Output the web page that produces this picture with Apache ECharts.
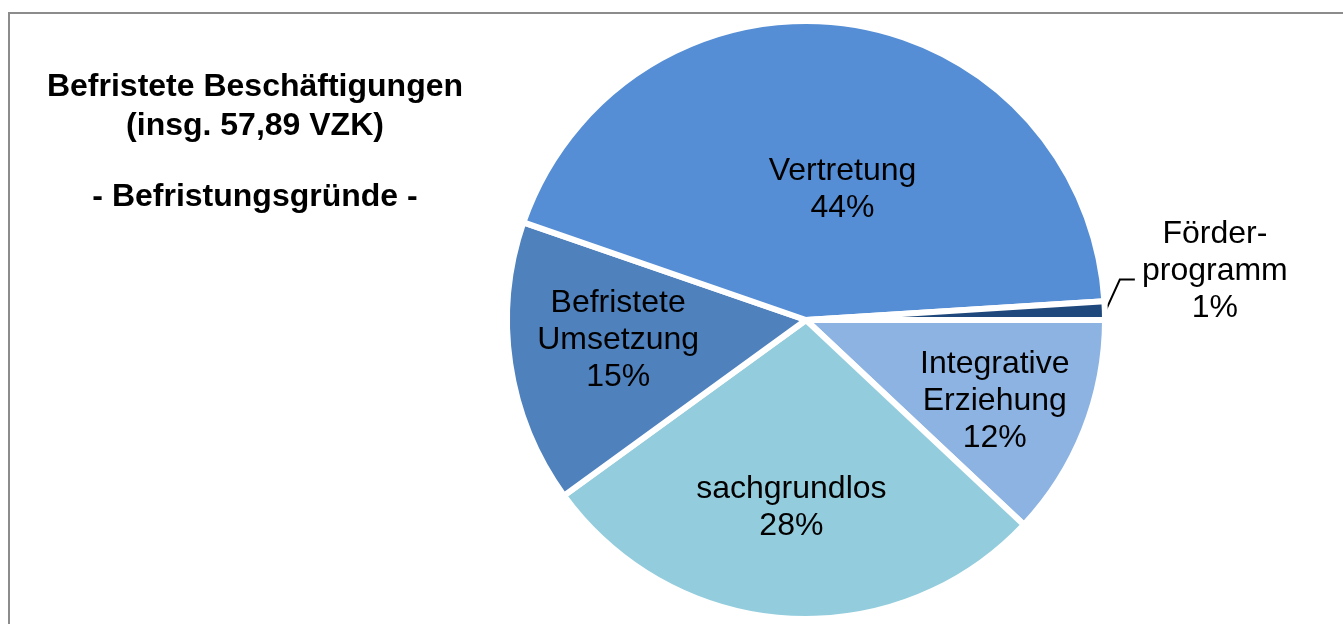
<!DOCTYPE html>
<html>
<head>
<meta charset="utf-8">
<script src="https://cdn.jsdelivr.net/npm/echarts@6/dist/echarts.min.js"></script>
<style>
  html, body { margin: 0; padding: 0; background: #fff; }
  #main { width: 1343px; height: 624px; }
</style>
</head>
<body>
<div id="main"></div>
<script>
// Befristungsgründe, Werte in VZK (Summe 57,89)
var names = ['Integrative\nErziehung', 'sachgrundlos', 'Befristete\nUmsetzung', 'Vertretung', 'Förder-\nprogramm'];
var values = [6.95, 16.21, 8.85, 25.30, 0.58];
var colors = ['#8DB3E2', '#93CDDD', '#4F81BD', '#558ED5', '#1F497D'];
// Feinverschiebung der Beschriftungen (wie im Original)
var labelShift = [[47, 25], [-5, 35], [-37, -2], [16, 21], [0, 0]];

var myChart = echarts.init(document.getElementById('main'));

var data = names.map(function (n, i) {
  var item = { name: n, value: values[i], itemStyle: { color: colors[i] } };
  if (i === 4) {
    item.label = { position: 'outside' };
    item.labelLine = { show: true, length: 22, length2: 14 };
  }
  return item;
});

var option = {
  animation: false,
  title: {
    left: 255,
    top: 68,
    textAlign: 'center',
    padding: 0,
    itemGap: 32,
    text: 'Befristete Beschäftigungen\n(insg. 57,89 VZK)',
    subtext: '- Befristungsgründe -',
    textStyle: {
      fontFamily: 'Liberation Sans, Arial, sans-serif',
      fontSize: 32, fontWeight: 'bold', color: '#000', lineHeight: 39
    },
    subtextStyle: {
      fontFamily: 'Liberation Sans, Arial, sans-serif',
      fontSize: 32, fontWeight: 'bold', color: '#000', lineHeight: 39
    }
  },
  graphic: [{
    type: 'rect',
    shape: { x: 9, y: 13, width: 1400, height: 700 },
    style: { fill: 'none', stroke: '#8c8c8c', lineWidth: 2 },
    silent: true
  }],
  series: [{
    type: 'pie',
    center: [806, 320],
    radius: 299,
    startAngle: 0,
    clockwise: true,
    avoidLabelOverlap: false,
    itemStyle: { borderColor: '#fff', borderWidth: 6 },
    label: {
      show: true,
      position: 'inside',
      fontFamily: 'Liberation Sans, Arial, sans-serif',
      fontSize: 32,
      lineHeight: 37,
      color: '#000',
      formatter: function (p) { return p.name + '\n' + Math.round(p.percent) + '%'; }
    },
    labelLine: { show: false, lineStyle: { color: '#000', width: 2 } },
    labelLayout: function (p) {
      if (p.dataIndex === 4 && p.labelLinePoints) {
        var s = p.labelLinePoints[0];
        return {
          x: s[0] + 110,
          y: s[1] - 39,
          align: 'center',
          verticalAlign: 'middle',
          labelLinePoints: [[s[0] - 1, s[1] + 4], [s[0] + 15, s[1] - 31], [s[0] + 30, s[1] - 31]]
        };
      }
      var d = labelShift[p.dataIndex];
      return { dx: d[0], dy: d[1] };
    },
    data: data
  }]
};

myChart.setOption(option);
</script>
</body>
</html>
